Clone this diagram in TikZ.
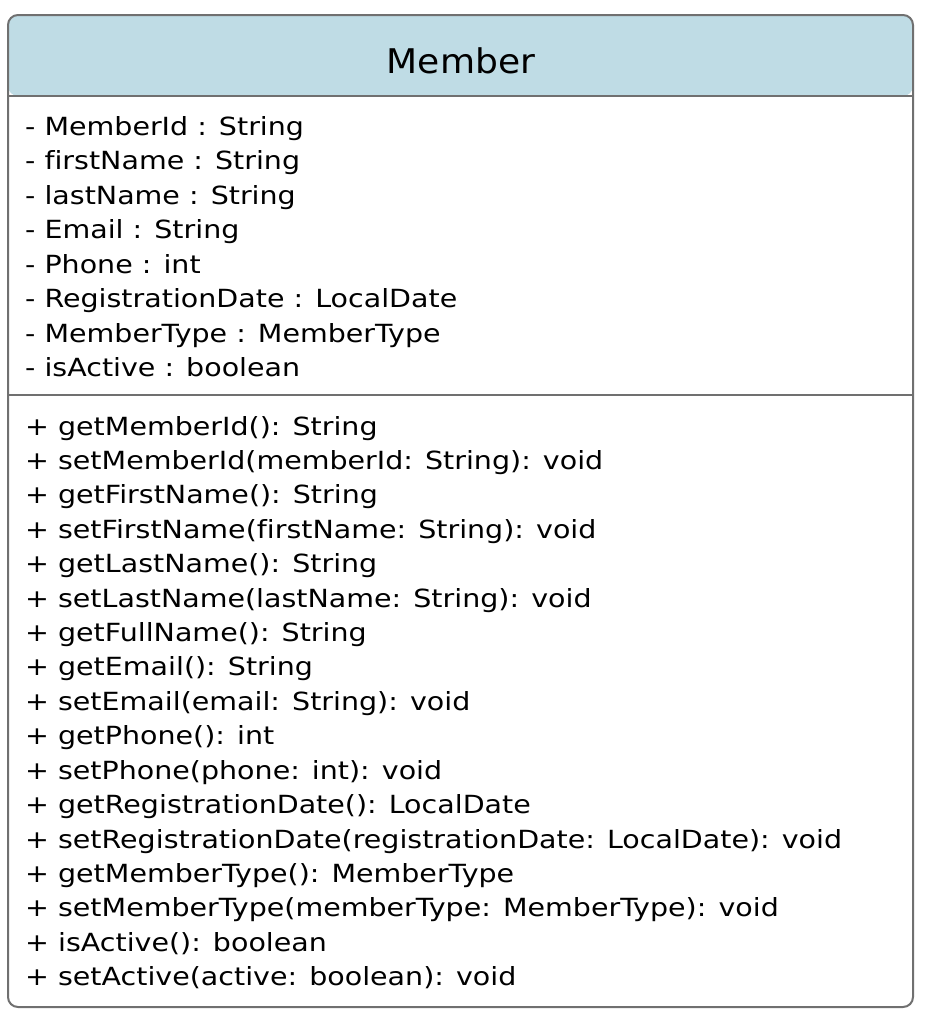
\documentclass[tikz,border=0pt]{standalone}
\usepackage{fontspec}
\setmainfont{DejaVu Sans}[Ligatures=NoCommon]
\newfontfamily\bodyfont{DejaVu Sans}[FakeStretch=1.14,Ligatures=NoCommon]
\newfontfamily\headfont{DejaVu Sans}[FakeStretch=1.06,Ligatures=NoCommon]
\definecolor{headfill}{HTML}{BFDCE5}
\definecolor{framegray}{HTML}{707070}
\begin{document}
\begin{tikzpicture}[x=1pt,y=-1pt,
  frame/.style={draw=framegray,line width=2pt},
  member/.style={anchor=base west,inner sep=0pt,font=\bodyfont\fontsize{25}{30}\selectfont,text=black},
  titletext/.style={anchor=base,inner sep=0pt,font=\headfont\fontsize{34}{40}\selectfont,text=black}]
\useasboundingbox (0,0) rectangle (924,1020);
% header compartment
\fill[headfill,rounded corners=10pt] (8,96) -- (8,15) -- (913,15) -- (913,96) -- cycle;
% outer frame and compartment separators
\draw[frame,rounded corners=10pt] (8,15) rectangle (913,1007);
\draw[frame] (8,96) -- (913,96);
\draw[frame] (8,395) -- (913,395);
\node[titletext] (title) at (461,73) {Member};
% attributes
\foreach \t [count=\i from 0] in {
  {- MemberId : String},
  {- firstName : String},
  {- lastName : String},
  {- Email : String},
  {- Phone : int},
  {- RegistrationDate : LocalDate},
  {- MemberType : MemberType},
  {- isActive : boolean}}
  \node[member] (attr\i) at (25,{135+34.5*\i}) {\t};
% operations
\foreach \t [count=\i from 0] in {
  {+ getMemberId(): String},
  {+ setMemberId(memberId: String): void},
  {+ getFirstName(): String},
  {+ setFirstName(firstName: String): void},
  {+ getLastName(): String},
  {+ setLastName(lastName: String): void},
  {+ getFullName(): String},
  {+ getEmail(): String},
  {+ setEmail(email: String): void},
  {+ getPhone(): int},
  {+ setPhone(phone: int): void},
  {+ getRegistrationDate(): LocalDate},
  {+ setRegistrationDate(registrationDate: LocalDate): void},
  {+ getMemberType(): MemberType},
  {+ setMemberType(memberType: MemberType): void},
  {+ isActive(): boolean},
  {+ setActive(active: boolean): void}}
  \node[member] (op\i) at (25,{435+34.42*\i}) {\t};
\end{tikzpicture}
\end{document}
